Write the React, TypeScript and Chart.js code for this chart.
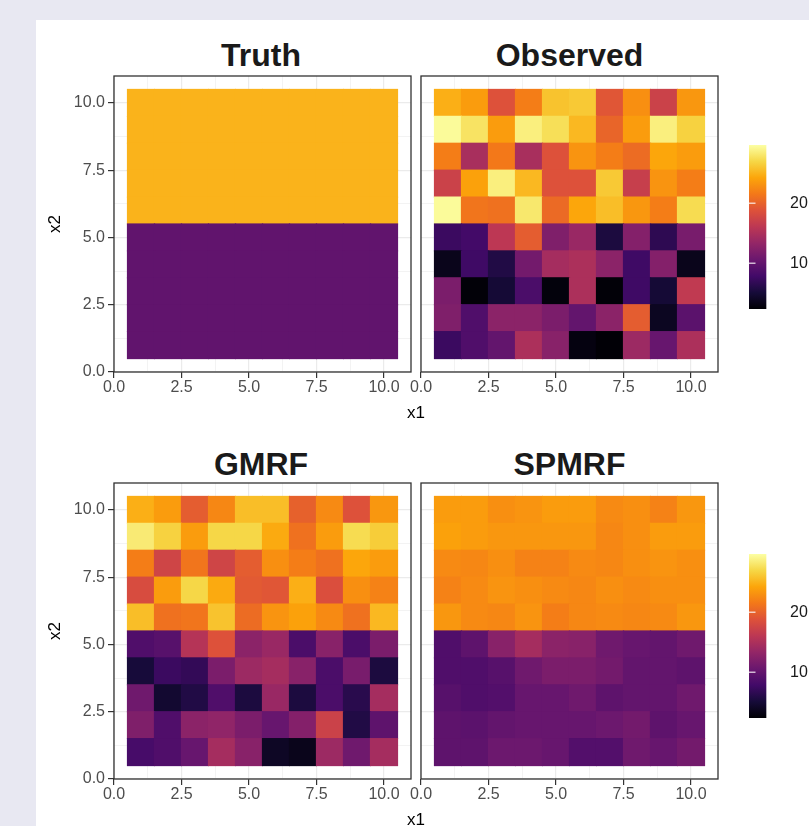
import React, { useEffect, useRef } from 'react';
import { Chart, registerables } from 'chart.js';

Chart.register(...registerables);
Chart.defaults.font.family = "'Liberation Sans', Arial, Helvetica, sans-serif";

// ---------------- data ----------------
const X_CELLS = [1, 2, 3, 4, 5, 6, 7, 8, 9, 10];
const Y_ROWS = [10, 9, 8, 7, 6, 5, 4, 3, 2, 1]; // rows listed top to bottom

const TRUTH = [
  [25, 25, 25, 25, 25, 25, 25, 25, 25, 25],
  [25, 25, 25, 25, 25, 25, 25, 25, 25, 25],
  [25, 25, 25, 25, 25, 25, 25, 25, 25, 25],
  [25, 25, 25, 25, 25, 25, 25, 25, 25, 25],
  [25, 25, 25, 25, 25, 25, 25, 25, 25, 25],
  [10, 10, 10, 10, 10, 10, 10, 10, 10, 10],
  [10, 10, 10, 10, 10, 10, 10, 10, 10, 10],
  [10, 10, 10, 10, 10, 10, 10, 10, 10, 10],
  [10, 10, 10, 10, 10, 10, 10, 10, 10, 10],
  [10, 10, 10, 10, 10, 10, 10, 10, 10, 10],
];

const OBSERVED = [
  [24.8, 23.7, 18.8, 21.8, 25.9, 26.2, 19.1, 22.9, 17.2, 23.4],
  [29.4, 27.8, 23.7, 28.6, 27.5, 25.3, 20.2, 23.7, 28.6, 26.7],
  [21.8, 14.7, 21.5, 14.7, 18.8, 23.2, 21.8, 20.7, 24.3, 23.7],
  [17.2, 24.0, 28.6, 25.3, 18.8, 18.8, 26.2, 16.9, 23.2, 21.8],
  [29.4, 21.3, 21.0, 28.1, 20.5, 24.3, 25.6, 23.4, 21.8, 27.3],
  [7.4, 7.9, 16.1, 19.6, 12.0, 13.7, 5.5, 12.3, 6.6, 11.5],
  [3.6, 7.7, 5.8, 11.2, 14.5, 15.0, 12.8, 7.7, 12.3, 3.6],
  [11.7, 2.6, 5.0, 8.5, 2.8, 15.0, 2.6, 7.7, 5.0, 16.4],
  [12.0, 8.8, 12.8, 12.8, 11.7, 10.1, 12.8, 19.6, 3.9, 9.6],
  [7.4, 8.8, 10.1, 15.0, 12.6, 3.0, 2.5, 13.9, 10.4, 15.0],
];

const GMRF = [
  [24.8, 23.7, 19.6, 22.4, 25.6, 25.6, 19.9, 22.6, 18.8, 23.4],
  [28.3, 26.7, 23.7, 27.0, 27.0, 24.5, 21.0, 23.7, 27.3, 26.4],
  [21.8, 17.5, 21.3, 17.5, 19.6, 22.9, 21.8, 21.0, 24.3, 23.7],
  [18.3, 23.7, 27.0, 24.5, 19.4, 19.1, 24.8, 18.5, 22.9, 22.1],
  [25.6, 21.0, 21.3, 25.9, 20.7, 23.2, 24.0, 22.6, 21.0, 25.3],
  [8.8, 9.3, 15.6, 18.8, 12.8, 13.7, 8.5, 12.6, 8.5, 11.7],
  [5.2, 7.4, 6.9, 11.7, 13.9, 14.5, 12.6, 8.5, 11.5, 5.5],
  [10.9, 4.7, 5.8, 8.8, 5.5, 13.7, 5.5, 8.5, 6.3, 14.5],
  [12.0, 8.8, 12.8, 13.1, 11.7, 10.4, 12.3, 17.2, 5.8, 9.8],
  [8.2, 8.8, 10.4, 14.5, 12.6, 4.1, 3.6, 13.9, 10.9, 14.5],
];

const SPMRF = [
  [23.7, 23.7, 22.9, 23.2, 23.7, 23.7, 22.6, 22.9, 22.1, 23.4],
  [24.0, 23.7, 23.4, 23.4, 23.4, 23.4, 22.4, 22.9, 23.7, 23.7],
  [22.6, 22.4, 22.9, 22.1, 22.1, 22.6, 22.4, 22.9, 23.2, 22.9],
  [22.1, 22.6, 23.2, 22.9, 22.6, 22.4, 22.9, 22.6, 22.9, 22.9],
  [23.4, 22.6, 22.4, 23.2, 21.8, 22.4, 22.6, 22.4, 22.6, 23.4],
  [8.8, 9.8, 12.6, 14.5, 12.8, 12.6, 10.9, 10.4, 10.1, 10.9],
  [8.8, 8.8, 9.3, 10.9, 11.7, 11.7, 11.2, 10.1, 10.1, 9.8],
  [9.3, 8.8, 9.0, 10.4, 10.4, 10.9, 9.8, 10.1, 10.1, 10.9],
  [9.8, 9.6, 10.1, 10.4, 10.4, 10.4, 10.7, 11.2, 9.8, 10.4],
  [9.8, 9.8, 10.7, 10.7, 10.4, 9.0, 9.0, 10.9, 10.4, 11.2],
];

const AXIS_TICKS = [0, 1.25, 2.5, 3.75, 5, 6.25, 7.5, 8.75, 10];
const MAJOR_TICKS = [0, 2.5, 5, 7.5, 10];
const AXIS_RANGE = [0, 11];
const LEGEND_TICKS = [10, 20];
const COLOR_LIMITS = [2.4, 29.7];

const INFERNO = [
  '#000004', '#160b39', '#420a68', '#6a176e', '#932667', '#bc3754',
  '#dd513a', '#f37819', '#fca50a', '#f6d746', '#fcffa4',
];

// ---------------- helpers ----------------
const FONT = "'Liberation Sans', Arial, Helvetica, sans-serif";

function hexToRgb(h: string) {
  const n = parseInt(h.slice(1), 16);
  return [(n >> 16) & 255, (n >> 8) & 255, n & 255];
}

function infernoColor(t: number) {
  const tt = Math.max(0, Math.min(1, t));
  const n = INFERNO.length - 1;
  const p = tt * n;
  const i = Math.min(n - 1, Math.floor(p));
  const f = p - i;
  const a = hexToRgb(INFERNO[i]);
  const b = hexToRgb(INFERNO[i + 1]);
  const c = a.map((v, k) => Math.round(v + (b[k] - v) * f));
  return `rgb(${c[0]},${c[1]},${c[2]})`;
}

function valueColor(v: number) {
  return infernoColor((v - COLOR_LIMITS[0]) / (COLOR_LIMITS[1] - COLOR_LIMITS[0]));
}

const isMajor = (v: any) => MAJOR_TICKS.includes(v);

function zeroPadding(s: any) {
  s.paddingTop = 0;
  s.paddingBottom = 0;
  s.paddingLeft = 0;
  s.paddingRight = 0;
}

const panelBorder = {
  id: 'panelBorder',
  afterDatasetsDraw(chart: any) {
    const { ctx, chartArea: a } = chart;
    ctx.save();
    ctx.strokeStyle = '#333333';
    ctx.lineWidth = 1.3;
    ctx.strokeRect(a.left, a.top, a.right - a.left, a.bottom - a.top);
    ctx.restore();
  },
};

const legendTicks = {
  id: 'legendTicks',
  afterDatasetsDraw(chart: any) {
    const { ctx, chartArea: a, scales } = chart;
    const y = scales.y;
    ctx.save();
    ctx.strokeStyle = 'rgba(255,255,255,0.7)';
    ctx.lineWidth = 1.5;
    LEGEND_TICKS.forEach((v) => {
      const py = y.getPixelForValue(v);
      ctx.beginPath();
      ctx.moveTo(a.left, py);
      ctx.lineTo(a.left + 6.5, py);
      ctx.moveTo(a.right - 6.5, py);
      ctx.lineTo(a.right, py);
      ctx.stroke();
    });
    ctx.restore();
  },
};

function gridOptions(drawTicks: boolean) {
  return {
    offset: false,
    color: '#ebebeb',
    lineWidth: (c: any) => (isMajor(c.tick && c.tick.value) ? 1.2 : 0.6),
    drawTicks,
    tickLength: drawTicks ? 6 : 0,
    tickWidth: 1.2,
    tickColor: (c: any) => (isMajor(c.tick && c.tick.value) ? '#333333' : 'rgba(0,0,0,0)'),
  };
}

type PanelProps = {
  grid: number[][];
  left: number;
  top: number;
  width: number;
  height: number;
  yAxisWidth: number;
  showY: boolean;
};

function Panel({ grid, left, top, width, height, yAxisWidth, showY }: PanelProps) {
  const ref = useRef<HTMLCanvasElement>(null);
  useEffect(() => {
    const data: any[] = [];
    const colors: string[] = [];
    grid.forEach((row, r) =>
      row.forEach((v, c) => {
        data.push({ x: X_CELLS[c], y: [Y_ROWS[r] - 0.5, Y_ROWS[r] + 0.5] });
        colors.push(valueColor(v));
      })
    );
    const tickFont = { size: 16, family: FONT };
    const chart = new Chart(ref.current as HTMLCanvasElement, {
      type: 'bar',
      data: {
        datasets: [
          {
            data,
            backgroundColor: colors,
            borderWidth: 0,
            barPercentage: 1,
            categoryPercentage: 1,
            grouped: false,
            inflateAmount: 0.6,
          } as any,
        ],
      },
      options: {
        animation: false,
        responsive: false,
        maintainAspectRatio: false,
        layout: { padding: { top: 6, right: 4, bottom: 0, left: 0 } },
        plugins: { legend: { display: false }, tooltip: { enabled: false }, title: { display: false } },
        scales: {
          x: {
            type: 'linear',
            min: AXIS_RANGE[0],
            max: AXIS_RANGE[1],
            offset: false,
            afterBuildTicks: (s: any) => {
              s.ticks = AXIS_TICKS.map((v) => ({ value: v }));
            },
            afterFit: (s: any) => {
              s.height = 43;
              zeroPadding(s);
            },
            grid: gridOptions(true) as any,
            border: { display: false },
            ticks: {
              autoSkip: false,
              maxRotation: 0,
              minRotation: 0,
              padding: 0,
              color: '#4d4d4d',
              font: tickFont,
              callback: (v: any) => (isMajor(v) ? Number(v).toFixed(1) : ''),
            },
          },
          y: {
            type: 'linear',
            min: AXIS_RANGE[0],
            max: AXIS_RANGE[1],
            afterBuildTicks: (s: any) => {
              s.ticks = AXIS_TICKS.map((v) => ({ value: v }));
            },
            afterFit: (s: any) => {
              s.width = yAxisWidth;
              zeroPadding(s);
            },
            grid: gridOptions(showY) as any,
            border: { display: false },
            ticks: {
              display: showY,
              autoSkip: false,
              padding: 3,
              color: '#4d4d4d',
              font: tickFont,
              callback: (v: any) => (isMajor(v) ? Number(v).toFixed(1) : ''),
            },
          },
        } as any,
      },
      plugins: [panelBorder],
    });
    return () => chart.destroy();
  }, [grid, yAxisWidth, showY]);
  return (
    <canvas
      ref={ref}
      width={width}
      height={height}
      style={{ position: 'absolute', left, top, width, height }}
    />
  );
}

function ColorBar({ left, top }: { left: number; top: number }) {
  const ref = useRef<HTMLCanvasElement>(null);
  useEffect(() => {
    const chart = new Chart(ref.current as HTMLCanvasElement, {
      type: 'bar',
      data: {
        labels: [''],
        datasets: [
          {
            data: [COLOR_LIMITS as any],
            borderWidth: 0,
            barPercentage: 1,
            categoryPercentage: 1,
            backgroundColor: (c: any) => {
              const ch = c.chart;
              const ys = ch.scales && ch.scales.y;
              if (!ch.chartArea || !ys) return INFERNO[5];
              const g = ch.ctx.createLinearGradient(
                0,
                ys.getPixelForValue(COLOR_LIMITS[0]),
                0,
                ys.getPixelForValue(COLOR_LIMITS[1])
              );
              INFERNO.forEach((col, i) => g.addColorStop(i / (INFERNO.length - 1), col));
              return g;
            },
          } as any,
        ],
      },
      options: {
        animation: false,
        responsive: false,
        maintainAspectRatio: false,
        layout: { padding: { top: 10, right: 0, bottom: 11, left: 9 } },
        plugins: { legend: { display: false }, tooltip: { enabled: false } },
        scales: {
          x: { display: false, offset: false, grid: { offset: false } },
          y: {
            position: 'right',
            min: COLOR_LIMITS[0],
            max: COLOR_LIMITS[1],
            afterBuildTicks: (s: any) => {
              s.ticks = LEGEND_TICKS.map((v) => ({ value: v }));
            },
            afterFit: (s: any) => {
              s.width = 26;
              zeroPadding(s);
            },
            grid: { display: false, drawTicks: false, tickLength: 0 },
            border: { display: false },
            ticks: { padding: 7, color: '#1a1a1a', font: { size: 16, family: FONT } },
          },
        } as any,
      },
      plugins: [legendTicks],
    });
    return () => chart.destroy();
  }, []);
  return (
    <canvas
      ref={ref}
      width={69}
      height={185}
      style={{ position: 'absolute', left, top, width: 69, height: 185 }}
    />
  );
}

function Label({ text, cx, top, size, bold }: { text: string; cx: number; top: number; size: number; bold?: boolean }) {
  return (
    <div
      style={{
        position: 'absolute',
        left: cx - 150,
        top,
        width: 300,
        textAlign: 'center',
        fontFamily: FONT,
        fontSize: size,
        fontWeight: bold ? 700 : 400,
        lineHeight: bold ? '36px' : '20px',
        color: bold ? '#1a1a1a' : '#000000',
        whiteSpace: 'nowrap',
      }}
    >
      {text}
    </div>
  );
}

function YTitle({ text, cx, cy }: { text: string; cx: number; cy: number }) {
  return (
    <div
      style={{
        position: 'absolute',
        left: cx - 50,
        top: cy - 10,
        width: 100,
        height: 20,
        lineHeight: '20px',
        textAlign: 'center',
        fontFamily: FONT,
        fontSize: 17,
        color: '#000000',
        transform: 'rotate(-90deg)',
        transformOrigin: '50% 50%',
      }}
    >
      {text}
    </div>
  );
}

export default function App() {
  const ROW2 = 407;
  return (
    <div
      style={{
        position: 'fixed',
        left: 0,
        top: 0,
        width: 809,
        height: 826,
        background: '#e8e8f2',
        overflow: 'hidden',
      }}
    >
      <div style={{ position: 'absolute', left: 36, top: 20, right: 0, bottom: 0, background: '#ffffff' }} />

      <Label text="Truth" cx={261} top={36.5} size={32} bold />
      <Label text="Observed" cx={569.5} top={36.5} size={32} bold />
      <Panel grid={TRUTH} left={40} top={70} width={375} height={345} yAxisWidth={74} showY />
      <Panel grid={OBSERVED} left={400} top={70} width={322} height={345} yAxisWidth={21} showY={false} />
      <ColorBar left={740} top={135} />
      <Label text="x1" cx={416} top={402.7} size={17} />
      <YTitle text="x2" cx={55} cy={224} />

      <Label text="GMRF" cx={261} top={36.5 + ROW2 + 2} size={32} bold />
      <Label text="SPMRF" cx={569.5} top={36.5 + ROW2 + 2} size={32} bold />
      <Panel grid={GMRF} left={40} top={70 + ROW2} width={375} height={345} yAxisWidth={74} showY />
      <Panel grid={SPMRF} left={400} top={70 + ROW2} width={322} height={345} yAxisWidth={21} showY={false} />
      <ColorBar left={740} top={135 + ROW2 + 2} />
      <Label text="x1" cx={416} top={402.7 + ROW2} size={17} />
      <YTitle text="x2" cx={55} cy={224 + ROW2} />
    </div>
  );
}
